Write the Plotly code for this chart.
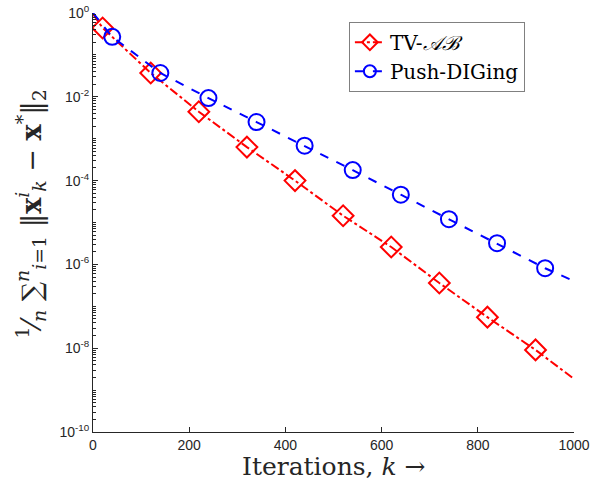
import plotly.graph_objects as go

# Iteration indices where markers are drawn
tv_iters = [20, 120, 220, 320, 420, 520, 620, 720, 820, 920]
tv_err = [0.44, 0.037, 0.0044, 6.3e-4, 1.0e-4, 1.45e-5, 2.6e-6, 3.6e-7, 5.5e-8, 9.1e-9]
pd_iters = [40, 140, 240, 340, 440, 540, 640, 740, 840, 940]
pd_err = [0.27, 0.037, 0.0093, 2.5e-3, 6.8e-4, 1.78e-4, 4.6e-5, 1.2e-5, 3.2e-6, 8.1e-7]

# Full curves (start / end points added)
tv_line_x = [0] + tv_iters + [1000]
tv_line_y = [0.95] + tv_err + [1.85e-9]
pd_line_x = [0] + pd_iters + [1000]
pd_line_y = [1.0] + pd_err + [4.0e-7]

# Axis ticks
x_ticks = [0, 200, 400, 600, 800, 1000]
y_exps = [0, -2, -4, -6, -8, -10]
y_ticks = [10.0 ** e for e in y_exps]
y_ticktext = [f"10<sup>{e}</sup>" for e in y_exps]
y_minor = [m * 10.0 ** e for e in range(-10, 0) for m in range(2, 10)] + [10.0 ** e for e in range(-9, 0, 2)]

RED = "#FF0000"
BLUE = "#0000FF"
serif = "DejaVu Serif, Liberation Serif, serif"
sans = "Liberation Sans, Arial, sans-serif"
axis_color = "#262626"

fig = go.Figure()

fig.add_trace(go.Scatter(x=tv_line_x, y=tv_line_y, mode="lines",
                         line=dict(color=RED, width=2, dash="dashdot"),
                         showlegend=False, hoverinfo="skip"))
fig.add_trace(go.Scatter(x=tv_iters, y=tv_err, mode="markers",
                         marker=dict(symbol="diamond-open", size=16, color=RED,
                                     line=dict(width=2, color=RED)),
                         showlegend=False))
fig.add_trace(go.Scatter(x=pd_line_x, y=pd_line_y, mode="lines",
                         line=dict(color=BLUE, width=2, dash="dash"),
                         showlegend=False, hoverinfo="skip"))
fig.add_trace(go.Scatter(x=pd_iters, y=pd_err, mode="markers",
                         marker=dict(symbol="circle-open", size=16, color=BLUE,
                                     line=dict(width=2, color=BLUE)),
                         showlegend=False))

# Legend entries
fig.add_trace(go.Scatter(x=[None], y=[None], mode="lines+markers", name="TV-<i>𝒜ℬ</i>",
                         line=dict(color=RED, width=2, dash="dashdot"),
                         marker=dict(symbol="diamond-open", size=12, color=RED,
                                     line=dict(width=2, color=RED))))
fig.add_trace(go.Scatter(x=[None], y=[None], mode="lines+markers", name="Push-DIGing",
                         line=dict(color=BLUE, width=2, dash="dash"),
                         marker=dict(symbol="circle-open", size=12, color=BLUE,
                                     line=dict(width=2, color=BLUE))))

fig.update_layout(
    width=592, height=482,
    margin=dict(l=93, r=18, t=13, b=50),
    paper_bgcolor="white", plot_bgcolor="white",
    legend=dict(x=0.532, y=0.979, xanchor="left", yanchor="top",
                bgcolor="white", bordercolor="#808080", borderwidth=1,
                font=dict(family=serif, size=20, color="black"),
                itemwidth=30, tracegroupgap=0),
    xaxis=dict(range=[0, 1000], tickvals=x_ticks, automargin=False,
               showgrid=False, zeroline=False, showline=True, linecolor=axis_color,
               linewidth=1, ticks="inside", ticklen=5, tickcolor=axis_color,
               tickfont=dict(family=sans, size=14, color=axis_color)),
    yaxis=dict(type="log", range=[-10, 0], tickvals=y_ticks, ticktext=y_ticktext,
               automargin=False,
               showgrid=False, zeroline=False, showline=True, linecolor=axis_color,
               linewidth=1, ticks="inside", ticklen=5, tickcolor=axis_color,
               tickfont=dict(family=sans, size=14, color=axis_color),
               minor=dict(ticks="inside", ticklen=3, tickcolor=axis_color, tickvals=y_minor)),
    annotations=[
        dict(text="Iterations, <i>k</i> →", xref="paper", yref="paper",
             x=0.5, y=-0.083, xanchor="center", yanchor="middle", showarrow=False,
             font=dict(family=serif, size=25, color=axis_color)),
        dict(text="<sup>1</sup>⁄<sub><i>n</i></sub> ∑<sup><i>n</i></sup><sub><i>i</i>=1</sub> ‖<b>x</b><sup><i>i</i></sup><sub><i>k</i></sub> − <b>x</b><sup>*</sup>‖<sub>2</sub>",
             xref="paper", yref="paper", x=-0.13, y=0.52, xanchor="center", yanchor="middle",
             textangle=-90, showarrow=False,
             font=dict(family=serif, size=27, color=axis_color)),
    ],
)

fig.write_html("out.html")
